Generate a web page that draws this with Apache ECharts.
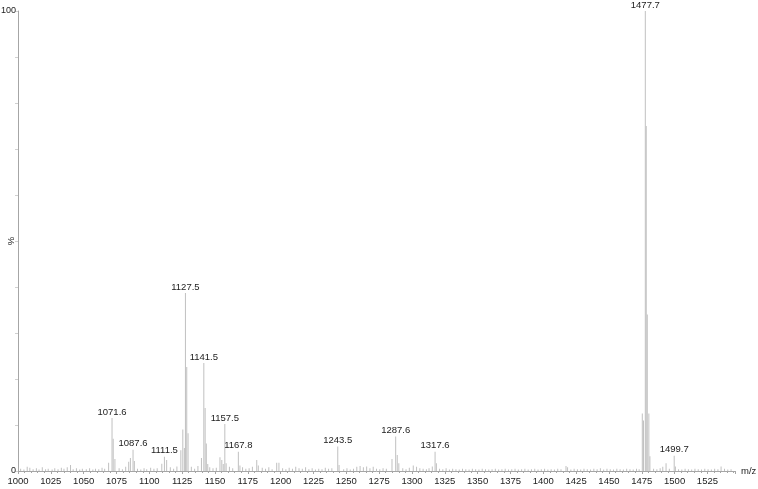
<!DOCTYPE html>
<html>
<head>
<meta charset="utf-8">
<script src="https://cdn.jsdelivr.net/npm/echarts@6/dist/echarts.min.js"></script>
<style>
html,body{margin:0;padding:0;background:#fff;}
#chart{width:758px;height:489px;}
</style>
</head>
<body>
<div id="chart"></div>
<script>
// m/z ticks
var xTicks = [1000,1025,1050,1075,1100,1125,1150,1175,1200,1225,1250,1275,1300,1325,1350,1375,1400,1425,1450,1475,1500,1525];
var yTickLabels = [0, 100];

// main peaks (m/z, relative intensity %)
var peakMz  = [1007,1040,1069.0,1071.6,1072.5,1073.8,1084.3,1085.6,1087.6,1088.6,1109.5,1111.5,1113.2,
               1124.0,1125.5,1126.7,1127.5,1128.5,1129.5,1139.7,1141.5,1142.5,1143.4,1144.5,
               1153.8,1155.2,1156.3,1157.5,1158.5,1167.8,1169.0,1181.8,1183.0,1197.0,1198.7,
               1243.5,1244.5,1284.8,1287.6,1288.8,1290.0,1301.0,1315.5,1317.6,1318.6,1417.3,1418.5,
               1475.4,1476.3,1477.7,1478.4,1479.2,1480.4,1481.2,1493.5,1499.7,1500.6,1535.4];
var peakInt = [0.9,1.3,1.8,11.5,7.0,2.6,2.0,2.8,4.6,2.2,1.6,3.1,2.4,
               4.5,9.0,5.0,38.7,22.6,8.2,2.8,23.5,13.7,6.0,1.5,
               3.0,2.4,1.5,10.2,1.7,4.2,1.2,2.4,1.2,1.8,1.8,
               5.3,1.3,2.6,7.5,3.5,1.7,1.2,1.0,4.2,1.7,1.1,0.8,
               12.5,11.0,100,75,34,12.5,3.2,1.7,3.3,1.0,1.0];
// peaks that carry an m/z label
var labeledMz = [1071.6,1087.6,1111.5,1127.5,1141.5,1157.5,1167.8,1243.5,1287.6,1317.6,1477.7,1499.7];

// baseline noise (m/z, intensity %)
var noise = [[1002,0.5],[1004.5,0.3],[1009,0.7],[1011.5,0.4],[1014,0.6],[1016,0.3],[1018.5,0.8],[1021,0.4],[1023,0.5],
 [1026,0.3],[1028,0.6],[1030.5,0.4],[1033,0.7],[1035,0.5],[1037.5,0.8],[1042,0.4],[1044.5,0.6],[1047,0.3],[1049,0.5],
 [1052,0.4],[1054.5,0.6],[1057,0.3],[1059,0.5],[1061.5,0.4],[1064,0.7],[1066,0.5],[1077,0.6],[1079.5,0.4],[1082,0.9],
 [1091,0.5],[1093.5,0.3],[1096,0.6],[1098,0.4],[1101,0.7],[1103.5,0.5],[1106,0.6],[1116,0.8],[1118.5,0.5],[1121,1.0],
 [1132,0.9],[1134.5,0.5],[1137,1.1],[1146,0.8],[1148.5,0.6],[1151,0.7],[1161,0.9],[1163.5,0.6],[1171,0.8],[1173.5,0.5],
 [1176,0.6],[1178.5,0.9],[1186,0.7],[1188.5,0.5],[1191,0.8],[1193.5,0.4],[1201.5,0.6],[1204,0.4],[1206.5,0.7],[1209,0.5],
 [1211.5,0.9],[1214,0.6],[1216.5,0.5],[1219,0.8],[1221.5,0.4],[1224,0.6],[1226.5,0.3],[1229,0.5],[1231.5,0.4],[1234,0.7],
 [1236.5,0.5],[1239,0.6],[1248,0.4],[1250.5,0.6],[1253,0.3],[1255.5,0.5],[1258,0.9],[1260.5,1.1],[1263,0.8],[1265.5,1.0],
 [1268,0.6],[1270.5,0.9],[1273,0.5],[1275.5,0.4],[1278,0.6],[1280.5,0.5],[1293,0.6],[1295.5,0.4],[1298,0.7],[1303.5,0.9],
 [1306,0.6],[1308.5,0.5],[1311,0.4],[1313,0.6],[1321,0.5],[1323.5,0.4],[1326,0.6],[1328.5,0.3],[1331,0.5],[1333.5,0.4],
 [1336,0.3],[1338.5,0.5],[1341,0.4],[1343.5,0.3],[1346,0.5],[1348.5,0.4],[1351,0.3],[1353.5,0.5],[1356,0.4],[1358.5,0.3],
 [1361,0.4],[1363.5,0.5],[1366,0.3],[1368.5,0.4],[1371,0.5],[1373.5,0.3],[1376,0.4],[1378.5,0.5],[1381,0.3],[1383.5,0.4],
 [1386,0.5],[1388.5,0.3],[1391,0.4],[1393.5,0.5],[1396,0.3],[1398.5,0.4],[1401,0.5],[1403.5,0.3],[1406,0.4],[1408.5,0.3],
 [1411,0.5],[1413.5,0.4],[1421,0.3],[1423.5,0.5],[1426,0.4],[1428.5,0.3],[1431,0.5],[1433.5,0.4],[1436,0.3],[1438.5,0.5],
 [1441,0.4],[1443.5,0.6],[1446,0.3],[1448.5,0.5],[1451,0.4],[1453.5,0.3],[1456,0.5],[1458.5,0.4],[1461,0.3],[1463.5,0.5],
 [1466,0.4],[1468.5,0.3],[1471,0.5],[1473,0.4],[1484,0.5],[1486.5,0.4],[1489,0.6],[1491,0.9],[1496,0.5],[1503,0.4],
 [1505.5,0.3],[1508,0.5],[1510.5,0.4],[1513,0.3],[1515.5,0.5],[1518,0.4],[1520.5,0.3],[1523,0.5],[1525.5,0.4],[1528,0.3],
 [1530.5,0.5],[1533,0.4],[1538,0.5],[1540.5,0.3],[1543,0.4]];

var FONT = "'Liberation Sans Narrow','Liberation Sans',Arial,sans-serif";
var peakColor = '#c0c0c0';
var axisColor = '#a6a6a6';

var data = [];
noise.forEach(function(p){ data.push([p[0], p[1]]); });
peakMz.forEach(function(mz, i){
  var item = {value: [mz, peakInt[i]]};
  if (labeledMz.indexOf(mz) >= 0) {
    item.label = {show: true};
  }
  data.push(item);
});
data.sort(function(a, b){
  var ax = a.value ? a.value[0] : a[0];
  var bx = b.value ? b.value[0] : b[0];
  return ax - bx;
});

var chart = echarts.init(document.getElementById('chart'), null, {renderer: 'canvas'});
chart.setOption({
  animation: false,
  backgroundColor: '#ffffff',
  grid: {left: 18, right: 23, top: 11, bottom: 18, containLabel: false, outerBoundsMode: 'none'},
  xAxis: {
    type: 'value',
    min: 1000,
    max: 1546,
    interval: 25,
    name: 'm/z',
    nameLocation: 'end',
    nameGap: 6,
    nameTextStyle: {color: '#222', fontSize: 9.5, fontFamily: FONT},
    axisLine: {show: true, lineStyle: {color: axisColor, width: 1}},
    axisTick: {show: true, length: 3, lineStyle: {color: axisColor}},
    minorTick: {show: true, splitNumber: 5, length: 2, lineStyle: {color: axisColor}},
    splitLine: {show: false},
    axisLabel: {
      color: '#222', fontSize: 9.5, fontFamily: FONT, margin: 5,
      showMaxLabel: false,
      formatter: function(v){ return xTicks.indexOf(v) >= 0 ? String(v) : ''; }
    }
  },
  yAxis: {
    type: 'value',
    min: 0,
    max: 100,
    interval: 10,
    name: '%',
    nameLocation: 'middle',
    nameGap: 2,
    nameMoveOverlap: false,
    nameTextStyle: {color: '#222', fontSize: 9.5, fontFamily: FONT},
    axisLine: {show: true, lineStyle: {color: axisColor, width: 1}},
    axisTick: {show: true, length: 3, lineStyle: {color: '#d0d0d0'}},
    splitLine: {show: false},
    axisLabel: {
      color: '#222', fontSize: 9, fontFamily: FONT, margin: 2,
      formatter: function(v){ return yTickLabels.indexOf(v) >= 0 ? String(v) : ''; }
    }
  },
  series: [{
    type: 'bar',
    barWidth: 1,
    barMinHeight: 0,
    itemStyle: {color: peakColor},
    label: {
      show: false,
      position: 'top',
      distance: 1,
      color: '#222',
      fontSize: 9.5,
      fontFamily: FONT,
      formatter: function(p){ return p.value[0].toFixed(1); }
    },
    data: data
  }]
});
</script>
</body>
</html>
